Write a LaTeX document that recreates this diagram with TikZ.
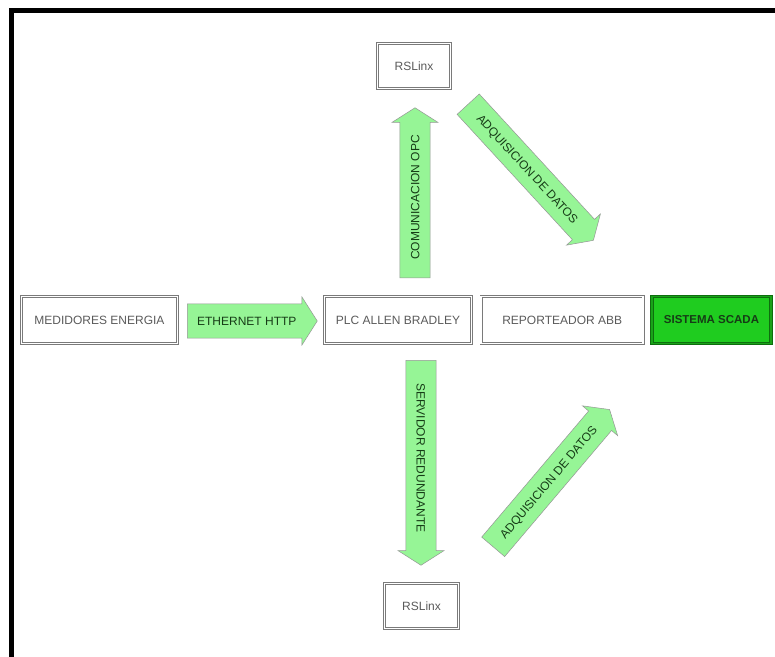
\documentclass[tikz,border=0pt]{standalone}
\usepackage{fontspec}
\setmainfont{Liberation Sans}
\usepackage{xcolor}
\usetikzlibrary{positioning,shapes.arrows}

\definecolor{arrowgreen}{HTML}{96F596}
\definecolor{boxgray}{HTML}{7A7A7A}
\definecolor{textgray}{HTML}{5A5A5A}
\definecolor{scadafill}{HTML}{1FCC1F}
\definecolor{scadaline}{HTML}{0E6E0E}
\definecolor{arrowtext}{HTML}{163C16}

\begin{document}
\begin{tikzpicture}[
		x=1pt, y=-1pt,
		font=\fontsize{12}{14}\selectfont,
		box/.style={draw=boxgray, double=white, double distance=1.6pt, line width=0.7pt,
			minimum height=47pt, text=textgray, inner sep=0pt},
		scadabox/.style={draw=scadaline, double=scadafill!80!black, double distance=1.6pt, line width=0.9pt,
			fill=scadafill, minimum height=47pt, text=arrowtext, inner sep=0pt, font=\fontsize{11.5}{14}\selectfont\bfseries},
		blockarrow/.style={single arrow, draw=boxgray!80, line width=0.5pt, fill=arrowgreen, text=arrowtext,
			single arrow head extend=8pt, single arrow tip angle=115,
			inner xsep=3pt, inner ysep=10.5pt, text height=8.6pt, text depth=0pt, anchor=tail}
		]
		
		\useasboundingbox (0,0) rectangle (775,656);
		\draw[line width=5pt] (11.5,700) -- (11.5,10.5) -- (800,10.5);
		
		% ---- middle row ----
		\node[box, minimum width=156pt] (medid) at (99.5,320) {MEDIDORES ENERGIA};
		\node[box, minimum width=147pt] (plc) at (398,320) {PLC ALLEN BRADLEY};
		\node[box, minimum width=162pt, right=9pt of plc] (report) {REPORTEADOR ABB};
		\node[scadabox, minimum width=119pt, right=8pt of report] (scada) {SISTEMA SCADA};
		
		% ---- RSLinx servers ----
		\node[box, minimum width=73pt, minimum height=45pt] (rsup) at (414,66) {RSLinx};
		\node[box, minimum width=74pt, minimum height=45pt] (rsdown) at (421.5,606) {RSLinx};
		
		% ---- block arrows ----
		\node[blockarrow, inner ysep=12.5pt, single arrow head extend=7pt, minimum height=130pt] (eth) at (187,321) {ETHERNET HTTP};
		\node[blockarrow, rotate=90, minimum height=170pt] (opc) at (415,278) {COMUNICACION OPC};
		\node[blockarrow, rotate=-90, minimum height=205pt] (serv) at (421,360) {SERVIDOR REDUNDANTE};
		\node[blockarrow, rotate=-47.4, minimum height=185pt] (adqup) at (468,104) {ADQUISICION DE DATOS};
		\node[blockarrow, rotate=49.7, minimum height=180pt] (adqdown) at (493,547) {ADQUISICION DE DATOS};
		
	\end{tikzpicture}
\end{document}
